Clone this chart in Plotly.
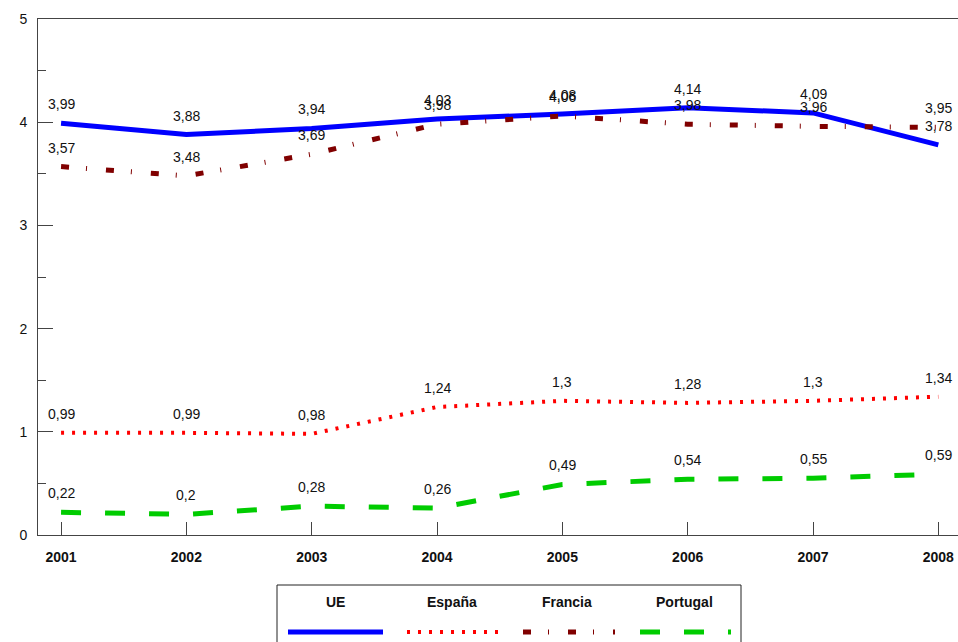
import plotly.graph_objects as go

# Data
years = ["2001", "2002", "2003", "2004", "2005", "2006", "2007", "2008"]
ue = [3.99, 3.88, 3.94, 4.03, 4.08, 4.14, 4.09, 3.78]
espana = [0.99, 0.99, 0.98, 1.24, 1.3, 1.28, 1.3, 1.34]
francia = [3.57, 3.48, 3.69, 3.98, 4.06, 3.98, 3.96, 3.95]
portugal = [0.22, 0.2, 0.28, 0.26, 0.49, 0.54, 0.55, 0.59]

series = [
    ("UE", ue, dict(color="#0000FF", width=5, dash="solid")),
    ("España", espana, dict(color="#FF0000", width=4, dash="3px,8px")),
    ("Francia", francia, dict(color="#800000", width=5, dash="8px,17px,1px,19px")),
    ("Portugal", portugal, dict(color="#00CC00", width=5, dash="20px,24px")),
]

FONT = "Liberation Sans, Arial, sans-serif"
W, H = 958, 642
ML, MR, MT, MB = 38, 0, 19, 107

fig = go.Figure()
annotations = []
for name, vals, line in series:
    fig.add_trace(go.Scatter(x=years, y=vals, mode="lines", name=name,
                             line=line, showlegend=False, hoverinfo="skip"))
    # value labels above each point (category index used as x position)
    for i, yv in enumerate(vals):
        annotations.append(dict(
            x=i, y=yv, xref="x", yref="y", text=str(yv).replace(".", ","),
            showarrow=False, xanchor="center", yanchor="middle", yshift=19,
            font=dict(family=FONT, size=14, color="#111111")))

# Custom legend box below the plot (labels above line samples)
pw = W - ML - MR
ph = H - MT - MB


def px_x(p):
    return (p - ML) / pw


def px_y(p):
    return (H - MB - p) / ph


shapes = [dict(type="rect", xref="paper", yref="paper",
               x0=px_x(277), x1=px_x(741), y0=px_y(660), y1=px_y(585),
               line=dict(color="#222222", width=1), fillcolor="rgba(0,0,0,0)")]
legend_text_x = [335, 452, 567, 684]
legend_line_x = [(288, 383), (407, 499), (523, 615), (640, 731)]
for (name, _, line), tx, (lx0, lx1) in zip(series, legend_text_x, legend_line_x):
    annotations.append(dict(
        x=px_x(tx), y=px_y(602), xref="paper", yref="paper", text="<b>%s</b>" % name,
        showarrow=False, xanchor="center", yanchor="middle",
        font=dict(family=FONT, size=14, color="#111111")))
    shapes.append(dict(type="line", xref="paper", yref="paper",
                       x0=px_x(lx0), x1=px_x(lx1), y0=px_y(632), y1=px_y(632),
                       line=line))

fig.update_layout(
    width=W, height=H,
    margin=dict(l=ML, r=MR, t=MT, b=MB, pad=0),
    paper_bgcolor="white", plot_bgcolor="white",
    font=dict(family=FONT, size=14, color="#111111"),
    showlegend=False,
    annotations=annotations,
    shapes=shapes,
    xaxis=dict(
        type="category", range=[-0.184, 7.157],
        showgrid=False, zeroline=False,
        showline=True, linecolor="#444444", linewidth=1, mirror=True,
        ticks="inside", ticklen=13, tickcolor="#444444", tickwidth=1,
        tickfont=dict(family=FONT, size=14, color="#111111", weight="bold"),
        ticklabelstandoff=9,
    ),
    yaxis=dict(
        range=[0, 5], tickvals=[0, 1, 2, 3, 4, 5],
        showgrid=False, zeroline=False,
        showline=True, linecolor="#444444", linewidth=1,
        ticks="inside", ticklen=15, tickcolor="#444444", tickwidth=1,
        minor=dict(ticks="inside", ticklen=8, dtick=0.5, tickcolor="#444444"),
        tickfont=dict(family=FONT, size=14, color="#111111"),
        ticklabelstandoff=7,
    ),
)

fig.write_html("out.html")
